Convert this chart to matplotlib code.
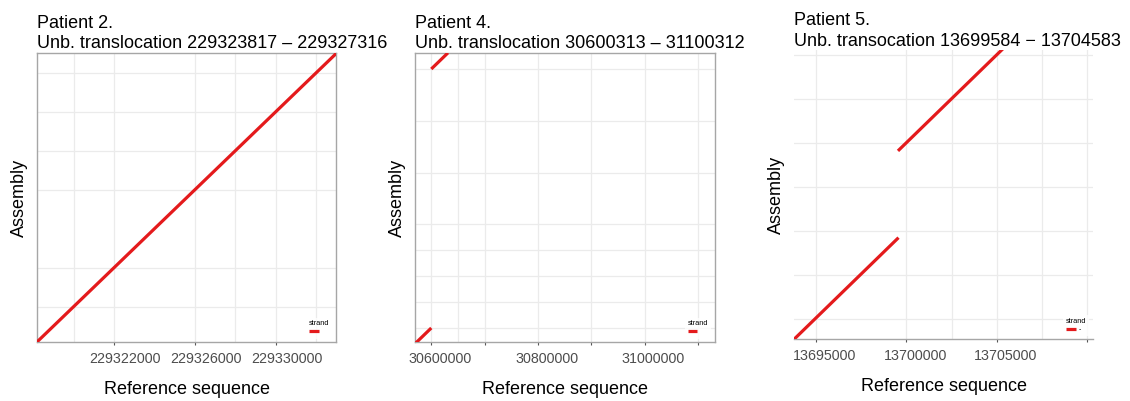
import matplotlib
matplotlib.use("Agg")
import matplotlib.pyplot as plt
from matplotlib.transforms import ScaledTranslation

plt.rcParams["font.family"] = ["Liberation Sans", "DejaVu Sans"]

# Patient 2: one alignment block, forward along the diagonal
p2_title = "Patient 2.\nUnb. translocation 229323817 \u2013 229327316"
p2_ref = [(229318190, 229333010)]
p2_asm = [(205, 15025)]
p2_xlim = (229318190, 229333010)
p2_ylim = (205, 15025)
p2_xgrid = [229320000, 229322000, 229326000, 229328000, 229330000, 229332000]
p2_ygrid = [2000, 4000, 8000, 10000, 12000, 14000]
p2_xticks = [229322000, 229326000, 229330000]
p2_xticklabels = ["229322000", "229326000", "229330000"]
p2_strand = ""

# Patient 4: two short blocks at the left edge
p4_title = "Patient 4.\nUnb. translocation 30600313 \u2013 31100312"
p4_ref = [(30570040, 30600000), (30600000, 30631280)]
p4_asm = [(70040, 100000), (600000, 631280)]
p4_xlim = (30570040, 31131270)
p4_ylim = (72900, 630360)
p4_xgrid = [30600000, 30650000, 30700000, 30800000, 30900000, 31000000, 31100000]
p4_ygrid = [100000, 150000, 200000, 250000, 300000, 400000, 500000, 600000]
p4_xticks = [30600000, 30700000, 30800000, 30900000, 31000000, 31100000]
p4_xticklabels = ["30600000", "", "30800000", "", "31000000", ""]
p4_strand = ""

# Patient 5: split alignment around the breakpoint
p5_title = "Patient 5.\nUnb. transocation 13699584 \u2212 13704583"
p5_ref = [(13693800, 13699570), (13699540, 13705380)]
p5_asm = [(1364, 7134), (12060, 17900)]
p5_xlim = (13693800, 13710315)
p5_ylim = (1364, 17760)
p5_xgrid = [13695000, 13700000, 13702500, 13705000, 13707500, 13710000]
p5_ygrid = [2500, 5000, 7500, 10000, 12500, 15000, 17500]
p5_xticks = [13695000, 13700000, 13705000, 13710000]
p5_xticklabels = ["13695000", "13700000", "13705000", ""]
p5_strand = "-"

RED = "#e41a1c"
GRID = "#ebebeb"
BORDER = "#a6a6a6"


def dotplot(ax, title, ref, asm, xlim, ylim, xgrid, ygrid, xticks, xticklabels,
            strand, boxed=True, label_shift=9):
    for xg in xgrid:
        ax.axvline(xg, color=GRID, lw=0.9, zorder=0)
    for yg in ygrid:
        ax.axhline(yg, color=GRID, lw=0.9, zorder=0)
    line = None
    for (x0, x1), (y0, y1) in zip(ref, asm):
        line, = ax.plot([x0, x1], [y0, y1], color=RED, lw=2.3,
                        solid_capstyle="butt", zorder=3)
    ax.set_xlim(*xlim)
    ax.set_ylim(*ylim)
    ax.set_xticks(xticks)
    ax.set_xticklabels(xticklabels)
    ax.set_yticks([])
    ax.tick_params(axis="x", length=2.5, width=0.8, color="#555555",
                   labelsize=10.3, labelcolor="#4d4d4d", pad=4.5)
    # tick labels sit a little right of their ticks
    shift = ScaledTranslation(label_shift / 100, 0, ax.figure.dpi_scale_trans)
    for lab in ax.get_xticklabels():
        lab.set_transform(lab.get_transform() + shift)
    for side, sp in ax.spines.items():
        sp.set_color(BORDER)
        sp.set_linewidth(1.0)
        if not boxed and side != "bottom":
            sp.set_visible(False)
    ax.set_xlabel("Reference sequence", fontsize=13, labelpad=11)
    ax.set_ylabel("Assembly", fontsize=13, labelpad=6.5)
    ax.set_title(title, loc="left", fontsize=13, pad=3.5, linespacing=1.28)
    leg = ax.legend([line], [strand], title="strand", loc="lower right",
                    bbox_to_anchor=(0.998, 0.0), fontsize=5, title_fontsize=5.3,
                    handlelength=1.4, handletextpad=0.5, borderpad=0.4,
                    labelspacing=0.2, alignment="left", frameon=True,
                    fancybox=False)
    leg.get_frame().set_facecolor("white")
    leg.get_frame().set_edgecolor("none")


fig = plt.figure(figsize=(11.3, 4.01), dpi=100)
ax1 = fig.add_axes([0.0327, 0.1471, 0.2650, 0.7200])
ax2 = fig.add_axes([0.3675, 0.1471, 0.2652, 0.7200])
ax3 = fig.add_axes([0.7027, 0.1539, 0.2646, 0.7202])

dotplot(ax1, p2_title, p2_ref, p2_asm, p2_xlim, p2_ylim, p2_xgrid, p2_ygrid,
        p2_xticks, p2_xticklabels, p2_strand, label_shift=11)
dotplot(ax2, p4_title, p4_ref, p4_asm, p4_xlim, p4_ylim, p4_xgrid, p4_ygrid,
        p4_xticks, p4_xticklabels, p4_strand, label_shift=8.5)
dotplot(ax3, p5_title, p5_ref, p5_asm, p5_xlim, p5_ylim, p5_xgrid, p5_ygrid,
        p5_xticks, p5_xticklabels, p5_strand, boxed=False, label_shift=9)

fig.savefig("out.png", dpi=100)
plt.close(fig)
